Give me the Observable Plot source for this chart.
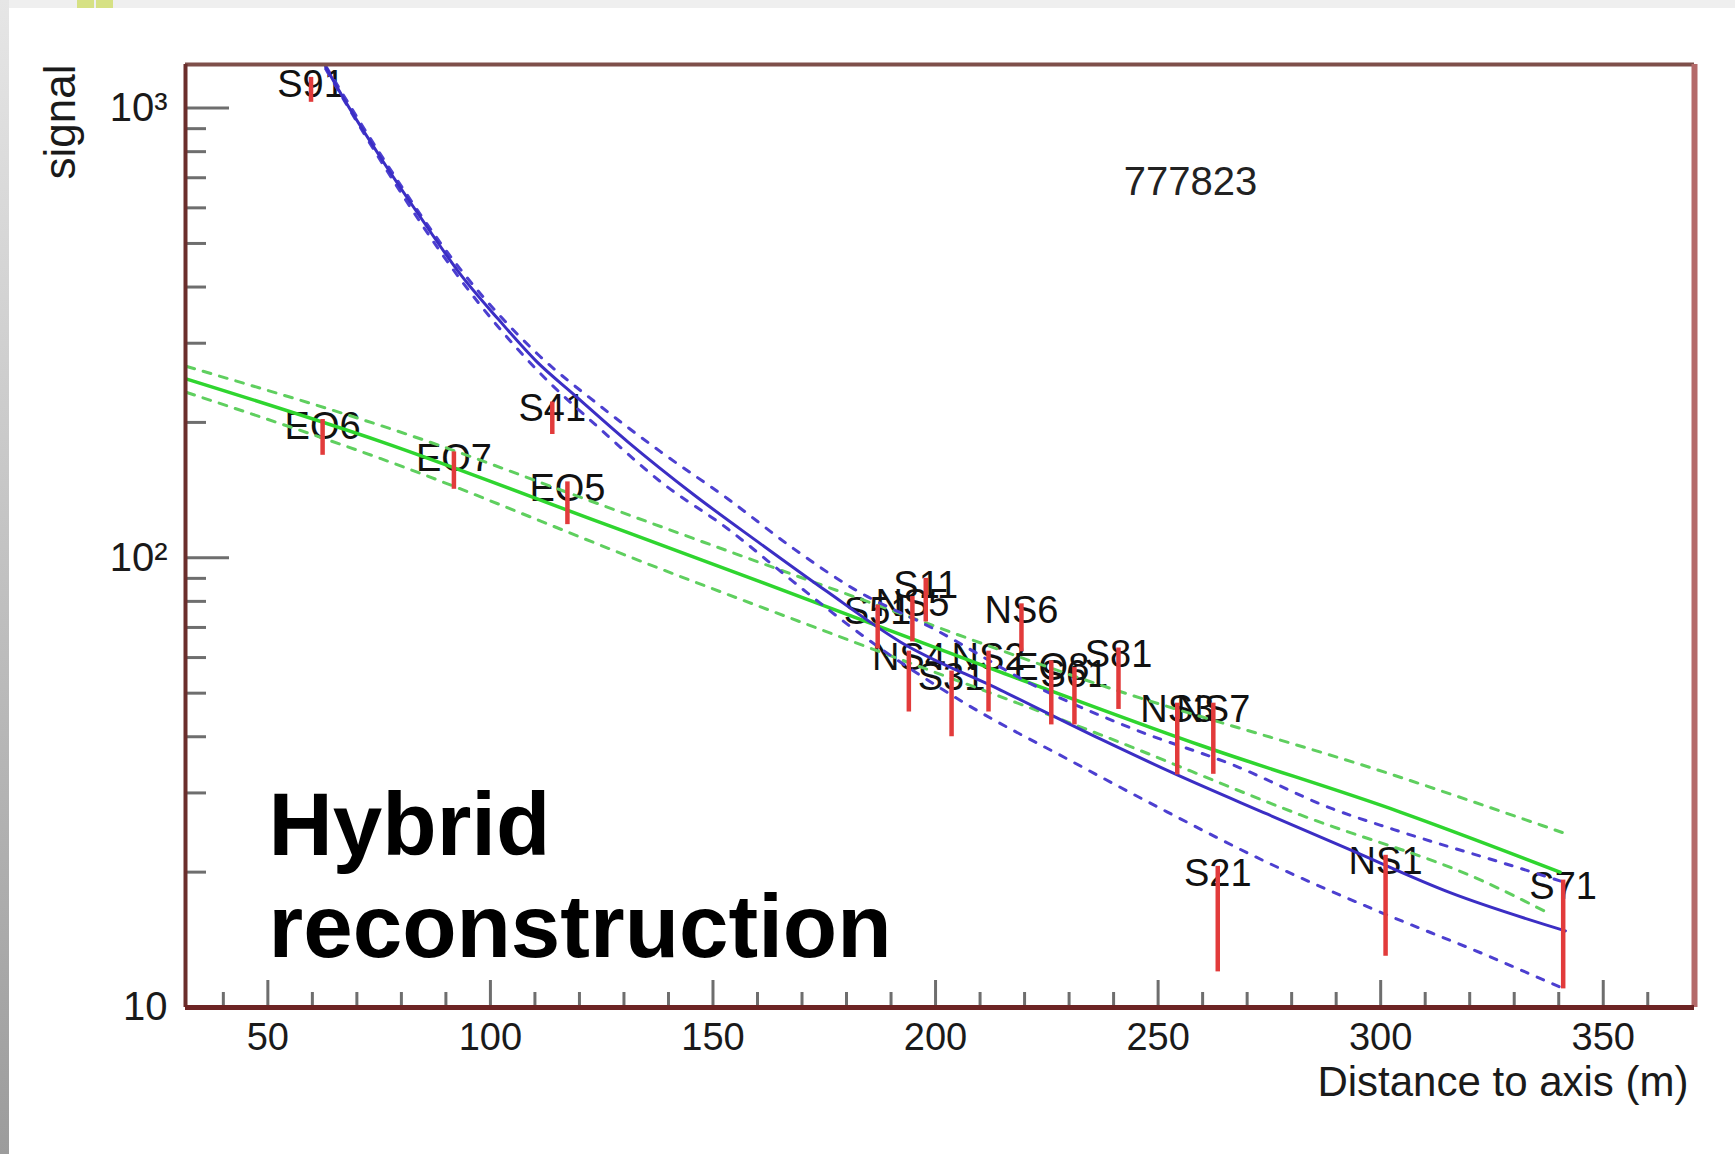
<!DOCTYPE html>
<html><head><meta charset="utf-8">
<script src="https://cdn.jsdelivr.net/npm/d3@7"></script>
<script src="https://cdn.jsdelivr.net/npm/@observablehq/plot@0.6"></script>
<style>
html,body{margin:0;padding:0;width:1735px;height:1154px;overflow:hidden;background:#fff;font-family:"Liberation Sans",Arial,sans-serif;}
#topbar{position:absolute;left:0;top:0;width:1735px;height:8px;background:#efefef;}
#leftbar{position:absolute;left:0;top:0;width:9px;height:1154px;background:linear-gradient(#e6e6e6,#9c9c9c);}
.sq{position:absolute;top:0;height:8px;width:17px;background:#d6e184;}
#chart{position:absolute;left:0;top:0;}
</style></head><body>
<div id="topbar"></div><div id="leftbar"></div>
<div class="sq" style="left:77px"></div><div class="sq" style="left:96px"></div>
<div id="chart"></div>
<script>
// ---- data: detector stations (distance to axis in m, signal, signal error)
const stationNames = ["S91","EO6","EO7","S41","EO5","S51","NS4","NS5","S11","S31","NS2","NS6","EO8","S61","S81","NS3","NS7","S21","NS1","S71"];
const stationDistance = [59.7,62.3,91.8,113.9,117.3,187.0,194.0,194.8,197.8,203.6,211.9,219.3,226.0,231.2,241.1,254.3,262.4,263.4,301.1,341.0];
const stationSignal = [1100,186,157,205,133,70.6,53.7,73.5,81,48,53.7,70.4,50.75,49.75,54.5,40.2,40.25,16.3,17.4,15.1];
const stationError = [70,17,15,17,14.5,7.9,8.3,8.5,9,8,8.3,8.6,8.25,7.25,8.5,7.3,7.25,4.3,4.4,4.1];

// ---- fitted lateral distribution functions
const blueFitDistance = [63.0,67.3,76.0,84.6,93.1,101.8,110.4,118.9,130.8,145.7,160.7,175.7,192.1,214.6,237.1,254.3,274.6,293.2,315.6,341.5];
const blueFitSignal = [1234,1039,758,566,429,339,273,230,181.3,138.1,107.4,84.0,65.0,50.8,39.5,32.9,26.9,22.4,18.0,14.8];
const blueUpperDistance = [63.0,76.0,93.1,110.4,124.8,138.2,153.3,168.1,181.6,199.6,222.0,244.5,266.9,289.4,302.8,332.0,341.2];
const blueUpperSignal = [1240,770,440,285,217,172.2,135.3,104.8,85.3,69.5,52.1,41.6,34.6,27.6,24.9,20.3,19.0];
const blueLowerDistance = [63.0,76.0,93.1,110.4,124.8,138.2,153.3,168.1,182.5,207.2,229.6,252.1,274.6,298.6,323.5,341.2];
const blueLowerSignal = [1221,746,418,262,192.8,147.7,116.0,88.4,68.4,47.1,35.7,27.2,21.0,16.5,13.1,11.0];

const greenFitDistance = [31.8,75.4,124.8,160.7,214.6,259.5,304.4,340.3];
const greenFitSignal = [249.7,181.3,119.7,88.4,55.7,38.3,27.2,20.0];
const greenUpperDistance = [31.8,82.8,124.8,178.7,237.1,302.8,340.8];
const greenUpperSignal = [266.3,186.0,131.2,84.0,52.1,32.9,24.5];
const greenLowerDistance = [31.8,75.4,138.2,181.6,237.1,282.0,323.5,338.3];
const greenLowerSignal = [233.1,166.1,94.5,65.0,40.4,26.8,19.0,16.1];

// ---- axes
const xDomain = [31.5, 370.5];
const yDomain = [10, 1250];
const xMajorTicks = [50,100,150,200,250,300,350];
const xMinorTicks = [40,60,70,80,90,110,120,130,140,160,170,180,190,210,220,230,240,260,270,280,290,310,320,330,340,360];
const yMajorTicks = [10,100,1000];
const yTickLabels = ["10","10²","10³"];
const yMinorTicks = [20,30,40,50,60,70,80,90,200,300,400,500,600,700,800,900];

const eventId = "777823";
const xTitle = "Distance to axis (m)";
const yTitle = "signal";
const noteLines = ["Hybrid","reconstruction"];

// ---- build
const W = 1735, H = 1154, mL = 185, mR = 41, mT = 64, mB = 147;
const frameW = W - mL - mR, frameH = H - mT - mB;
const stations = stationNames.map((name, i) => ({name, d: stationDistance[i], s: stationSignal[i], e: stationError[i]}));
const pts = (xs, ys) => xs.map((x, i) => ({x, y: ys[i]}));

const BLUE = "#3b2ec4", BLUE_D = "#4c3fd0", GREEN = "#2fd52f", GREEN_D = "#5fcf5f", RED = "#e23b3b", TICK = "#6e6e6e";
const lineOpts = (stroke, w, dash) => ({x: "x", y: "y", stroke, strokeWidth: w, strokeDasharray: dash, curve: "monotone-x", clip: true});

const chart = Plot.plot({
  width: W, height: H,
  marginLeft: mL, marginRight: mR, marginTop: mT, marginBottom: mB,
  style: {background: "transparent", fontFamily: "'Liberation Sans', Arial, sans-serif", color: "#1a1a1a"},
  x: {domain: xDomain},
  y: {type: "log", domain: yDomain},
  marks: [
    Plot.tickY(yMinorTicks, {y: d => d, insetRight: frameW - 21, stroke: TICK, strokeWidth: 3}),
    Plot.tickY(yMajorTicks, {y: d => d, insetRight: frameW - 44, stroke: TICK, strokeWidth: 3}),
    Plot.tickX(xMinorTicks, {x: d => d, insetTop: frameH - 15, stroke: TICK, strokeWidth: 3}),
    Plot.tickX(xMajorTicks, {x: d => d, insetTop: frameH - 27, stroke: TICK, strokeWidth: 3}),
    Plot.axisY({ticks: yMajorTicks, tickSize: 0, tickPadding: 18, fontSize: 40, label: null,
      tickFormat: d => yTickLabels[yMajorTicks.indexOf(d)]}),
    Plot.axisX({ticks: xMajorTicks, tickSize: 0, tickPadding: 16, fontSize: 38, label: null}),
    Plot.text([xTitle], {text: d => d, frameAnchor: "bottom-right", dx: -6, dy: 75, textAnchor: "end", lineAnchor: "middle", fontSize: 42, fill: "#1a1a1a"}),
    Plot.text([yTitle], {text: d => d, frameAnchor: "top-left", dx: -125, dy: 0, rotate: -90, textAnchor: "end", lineAnchor: "middle", fontSize: 44, fill: "#1a1a1a"}),
    Plot.text([eventId], {text: d => d, frameAnchor: "top-left", dx: 1005, dy: 118, textAnchor: "middle", lineAnchor: "middle", fontSize: 40, fill: "#222"}),
    Plot.text([noteLines[0]], {text: d => d, frameAnchor: "bottom-left", dx: 83, dy: -181, textAnchor: "start", lineAnchor: "middle", fontSize: 89, fontWeight: "bold", fill: "#000"}),
    Plot.text([noteLines[1]], {text: d => d, frameAnchor: "bottom-left", dx: 83, dy: -79, textAnchor: "start", lineAnchor: "middle", fontSize: 89, fontWeight: "bold", fill: "#000"}),
    // station labels
    Plot.text(stations, {x: "d", y: d => d.s + d.e, text: "name", dy: 7, lineAnchor: "middle", fontSize: 38, fill: "#111"}),
    // fits
    Plot.line(pts(greenUpperDistance, greenUpperSignal), lineOpts(GREEN_D, 3, "8,9")),
    Plot.line(pts(greenLowerDistance, greenLowerSignal), lineOpts(GREEN_D, 3, "8,9")),
    Plot.line(pts(greenFitDistance, greenFitSignal), lineOpts(GREEN, 3.5, null)),
    Plot.line(pts(blueUpperDistance, blueUpperSignal), lineOpts(BLUE_D, 3, "7,10")),
    Plot.line(pts(blueLowerDistance, blueLowerSignal), lineOpts(BLUE_D, 3, "7,10")),
    Plot.line(pts(blueFitDistance, blueFitSignal), lineOpts(BLUE, 3, null)),
    // error bars
    Plot.ruleX(stations, {x: "d", y1: d => d.s - d.e, y2: d => d.s + d.e, stroke: RED, strokeWidth: 4.5}),
    // frame
    Plot.ruleY([yDomain[1]], {stroke: "#7e4f4a", strokeWidth: 4}),
    Plot.ruleX([xDomain[1]], {stroke: "#b46a6a", strokeWidth: 6}),
    Plot.ruleX([xDomain[0]], {stroke: "#6b2e2c", strokeWidth: 4}),
    Plot.ruleY([yDomain[0]], {stroke: "#6d2424", strokeWidth: 5})
  ]
});
document.getElementById("chart").appendChild(chart);
</script></body></html>
